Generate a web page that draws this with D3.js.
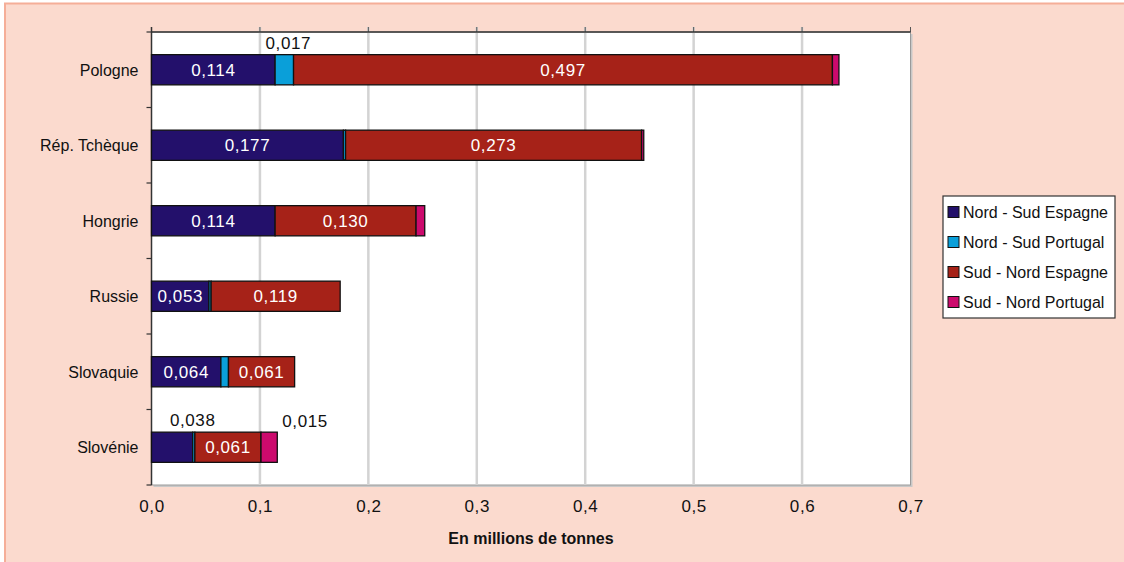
<!DOCTYPE html>
<html>
<head>
<meta charset="utf-8">
<script src="https://cdn.jsdelivr.net/npm/d3@7"></script>
<style>
  html, body { margin: 0; padding: 0; background: #ffffff; }
  svg { display: block; font-family: "Liberation Sans", Arial, Helvetica, sans-serif; }
</style>
</head>
<body>
<svg id="chart" width="1124" height="562"></svg>
<script>
// Flux par pays (millions de tonnes)
const categories = ["Pologne", "Rép. Tchèque", "Hongrie", "Russie", "Slovaquie", "Slovénie"];
const seriesNames = ["Nord - Sud Espagne", "Nord - Sud Portugal", "Sud - Nord Espagne", "Sud - Nord Portugal"];
const nordSudEspagne  = [0.114, 0.177, 0.114, 0.053, 0.064, 0.038];
const nordSudPortugal = [0.017, 0.002, 0.000, 0.002, 0.007, 0.002];
const sudNordEspagne  = [0.497, 0.273, 0.130, 0.119, 0.061, 0.061];
const sudNordPortugal = [0.006, 0.002, 0.008, 0.000, 0.000, 0.015];
const xTicks = [0, 0.1, 0.2, 0.3, 0.4, 0.5, 0.6, 0.7];
const axisTitle = "En millions de tonnes";

// Which values get a label, and where: "in" = centred inside, others placed beside
const labelPlacement = {
  "Pologne":      ["in", "above", "in", null],
  "Rép. Tchèque": ["in", null, "in", null],
  "Hongrie":      ["in", null, "in", null],
  "Russie":       ["in", null, "in", null],
  "Slovaquie":    ["in", null, "in", null],
  "Slovénie":     ["aboveEnd", null, "in", "aboveRight"]
};

const colors = ["#23106b", "#0a9fd9", "#a62218", "#cc0a6d"];
const seriesValues = [nordSudEspagne, nordSudPortugal, sudNordEspagne, sudNordPortugal];

const rows = categories.map((c, i) => {
  const r = { cat: c };
  seriesNames.forEach((s, k) => { r[s] = seriesValues[k][i]; });
  return r;
});
const stacked = d3.stack().keys(seriesNames)(rows);

const fmt = v => d3.format(".3f")(v).replace(".", ",");
const fmtTick = v => d3.format(".1f")(v).replace(".", ",");

const svg = d3.select("#chart");

// Panel background
svg.append("rect").attr("x", 5).attr("y", 3.5).attr("width", 1124).attr("height", 562)
  .attr("fill", "#fbdace").attr("stroke", "#f5ae98").attr("stroke-width", 2);

const plot = { left: 151.5, right: 910.5, top: 32, bottom: 485 };

const x = d3.scaleLinear().domain([0, 0.7]).range([plot.left, plot.right]);
const y = d3.scaleBand().domain(categories).range([plot.top, plot.bottom]).paddingInner(0.6).paddingOuter(0.3);
const yOuter = d3.scaleBand().domain(categories).range([plot.top, plot.bottom]);

// Plot area with drop shadow on right/bottom
svg.append("rect").attr("x", plot.left + 2).attr("y", plot.top + 2)
  .attr("width", plot.right - plot.left).attr("height", plot.bottom - plot.top)
  .attr("fill", "#c8c8c8");
svg.append("rect").attr("x", plot.left).attr("y", plot.top)
  .attr("width", plot.right - plot.left).attr("height", plot.bottom - plot.top)
  .attr("fill", "#ffffff").attr("stroke", "#9a9a9a").attr("stroke-width", 1);

// Vertical grid lines (extend a little above the frame as ticks)
svg.append("g").selectAll("line").data(xTicks.slice(1, -1)).join("line")
  .attr("x1", d => x(d)).attr("x2", d => x(d))
  .attr("y1", plot.top - 5).attr("y2", plot.bottom)
  .attr("stroke", "#d3d3d3").attr("stroke-width", 2.5);
svg.append("g").selectAll("line").data(xTicks.slice(1)).join("line")
  .attr("x1", d => x(d)).attr("x2", d => x(d))
  .attr("y1", plot.top - 5).attr("y2", plot.top)
  .attr("stroke", "#555").attr("stroke-width", 1);

// Top frame line
svg.append("line").attr("x1", plot.left).attr("x2", plot.right)
  .attr("y1", plot.top).attr("y2", plot.top).attr("stroke", "#333").attr("stroke-width", 1.5);

// X axis labels (bottom)
const xAxis = d3.axisBottom(x).tickValues(xTicks).tickFormat(fmtTick).tickSize(0).tickPadding(0);
const gx = svg.append("g").attr("transform", `translate(0,${plot.bottom})`).call(xAxis);
gx.select(".domain").remove();
gx.selectAll("text").attr("dy", null).attr("y", 27)
  .attr("font-size", 17).attr("fill", "#111").attr("font-family", "Liberation Sans, Arial, sans-serif")
  .attr("letter-spacing", 0.6);

// Y axis with category labels and ticks at band boundaries
svg.append("line").attr("x1", plot.left).attr("x2", plot.left)
  .attr("y1", plot.top - 5).attr("y2", plot.bottom).attr("stroke", "#333").attr("stroke-width", 1.5);
const bounds = categories.map(c => yOuter(c)).concat([plot.bottom]);
svg.append("g").selectAll("line").data(bounds).join("line")
  .attr("x1", plot.left - 5).attr("x2", plot.left)
  .attr("y1", d => d).attr("y2", d => d).attr("stroke", "#333").attr("stroke-width", 1.2);
svg.append("g").selectAll("text").data(categories).join("text")
  .attr("x", plot.left - 13).attr("y", d => y(d) + y.bandwidth() / 2)
  .attr("dy", "0.36em").attr("text-anchor", "end")
  .attr("font-size", 16).attr("fill", "#111").text(d => d);

// Stacked bars
const barG = svg.append("g");
stacked.forEach((layer, k) => {
  barG.append("g").selectAll("rect").data(layer).join("rect")
    .attr("x", d => x(d[0])).attr("y", d => y(d.data.cat))
    .attr("width", d => Math.max(0, x(d[1]) - x(d[0])))
    .attr("height", y.bandwidth())
    .attr("fill", colors[k])
    .attr("stroke", d => (d[1] - d[0]) > 0 ? "#111" : "none").attr("stroke-width", 1.3);
});

// Value labels
const labG = svg.append("g").attr("font-size", 17).attr("letter-spacing", 0.6);
stacked.forEach((layer, k) => {
  layer.forEach(d => {
    const place = labelPlacement[d.data.cat][k];
    if (!place) return;
    const v = d[1] - d[0];
    const x0 = x(d[0]), x1 = x(d[1]);
    const yc = y(d.data.cat) + y.bandwidth() / 2;
    const t = labG.append("text").text(fmt(v)).attr("dy", "0.36em");
    if (place === "in") {
      t.attr("x", (x0 + x1) / 2).attr("y", yc).attr("text-anchor", "middle").attr("fill", "#ffffff");
    } else if (place === "above") {
      t.attr("x", (x0 + x1) / 2 + 4).attr("y", yc - 27).attr("text-anchor", "middle").attr("fill", "#111");
    } else if (place === "aboveEnd") {
      t.attr("x", x1).attr("y", yc - 27).attr("text-anchor", "middle").attr("fill", "#111");
    } else if (place === "aboveRight") {
      t.attr("x", x1 + 5).attr("y", yc - 26).attr("text-anchor", "start").attr("fill", "#111");
    }
  });
});

// Axis title
svg.append("text").attr("x", (plot.left + plot.right) / 2).attr("y", 544)
  .attr("text-anchor", "middle").attr("font-size", 16).attr("font-weight", "bold")
  .attr("fill", "#111").text(axisTitle);

// Legend
const lg = svg.append("g").attr("transform", "translate(943,196)");
lg.append("rect").attr("width", 172).attr("height", 122).attr("fill", "#ffffff")
  .attr("stroke", "#333").attr("stroke-width", 1.2);
seriesNames.forEach((s, k) => {
  const yy = 16 + k * 30;
  lg.append("rect").attr("x", 5).attr("y", yy - 5.5).attr("width", 11).attr("height", 11)
    .attr("fill", colors[k]).attr("stroke", "#111").attr("stroke-width", 1);
  lg.append("text").attr("x", 20).attr("y", yy).attr("dy", "0.36em")
    .attr("font-size", 16).attr("fill", "#111").text(s);
});
</script>
</body>
</html>
